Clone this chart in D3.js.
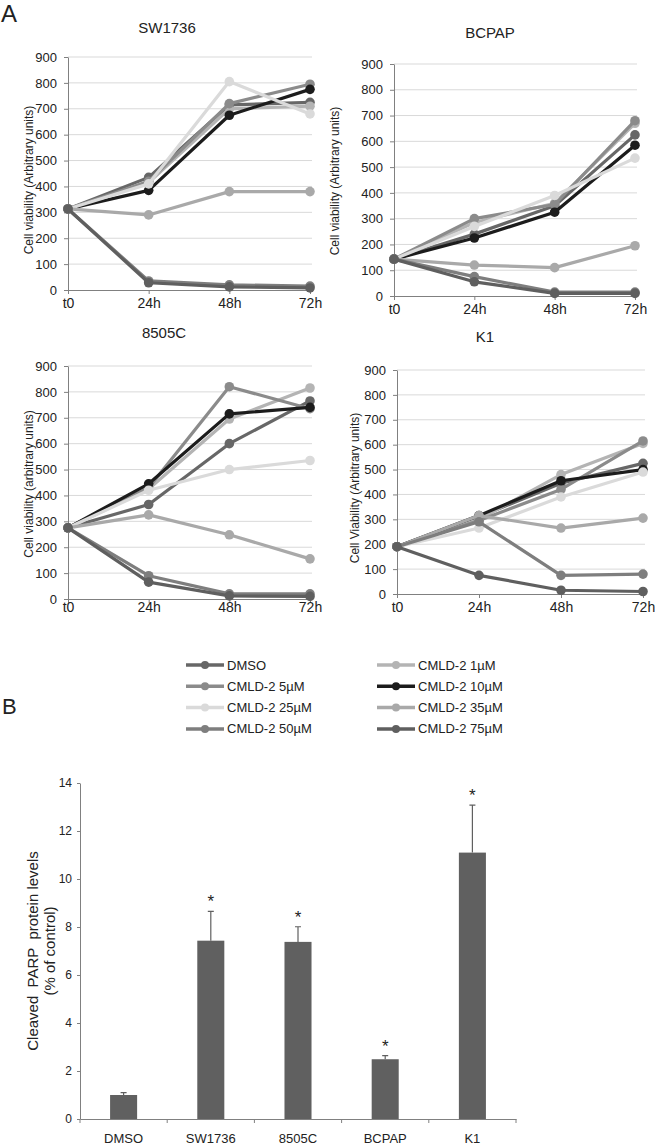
<!DOCTYPE html>
<meta charset="utf-8">
<style>
body { margin: 0; background: #fff; }
svg { font-family: "Liberation Sans", Arial, sans-serif; }
svg text { fill: #222; }
.axis path, .axis line { stroke: #808080; }
</style>
<body>
<script src="https://cdn.jsdelivr.net/npm/d3@7"></script>
<script>

// ---- data ----
var times = ["t0", "24h", "48h", "72h"];
var treatments = ["DMSO", "CMLD-2 1µM", "CMLD-2 5µM", "CMLD-2 10µM",
                  "CMLD-2 25µM", "CMLD-2 35µM", "CMLD-2 50µM", "CMLD-2 75µM"];
var shades = ["#676767", "#b4b4b4", "#8b8b8b", "#1c1c1c",
              "#dadada", "#a9a9a9", "#7e7e7e", "#5f5f5f"];
var viabilityTicks = [0, 100, 200, 300, 400, 500, 600, 700, 800, 900];

// one row per treatment, values at t0, 24h, 48h, 72h
var sw1736 = [
  [313, 435, 715, 725],
  [313, 415, 700, 710],
  [313, 420, 720, 795],
  [313, 385, 675, 775],
  [313, 410, 805, 680],
  [313, 290, 380, 380],
  [313, 35, 20, 15],
  [313, 28, 12, 8]
];
var bcpap = [
  [143, 240, 350, 625],
  [143, 285, 360, 670],
  [143, 300, 355, 680],
  [143, 225, 325, 585],
  [143, 270, 390, 535],
  [143, 120, 110, 195],
  [143, 75, 15, 15],
  [143, 55, 10, 10]
];
var c8505 = [
  [275, 365, 600, 765],
  [275, 425, 695, 815],
  [275, 430, 820, 735],
  [275, 445, 715, 740],
  [275, 420, 500, 535],
  [275, 325, 248, 155],
  [275, 90, 20, 20],
  [275, 65, 12, 10]
];
var k1 = [
  [190, 310, 445, 525],
  [190, 300, 480, 605],
  [190, 295, 420, 615],
  [190, 315, 455, 500],
  [190, 265, 390, 490],
  [190, 315, 265, 305],
  [190, 290, 75, 80],
  [190, 75, 15, 10]
];

var barCategories = ["DMSO", "SW1736", "8505C", "BCPAP", "K1"];
var parpMean = [1.0, 7.43, 7.38, 2.49, 11.1];
var parpErr = [0.1, 1.22, 0.63, 0.15, 1.98];
var parpStar = [false, true, true, true, true];
var parpTicks = [0, 2, 4, 6, 8, 10, 12, 14];

// ---- canvas ----
var svg = d3.select("body").append("svg")
    .attr("width", 655)
    .attr("height", 1145);

svg.append("text").attr("x", 1).attr("y", 22)
    .style("font-size", "24px").text("A");
svg.append("text").attr("x", 2).attr("y", 714)
    .style("font-size", "22px").text("B");

// ---- line panels ----
var panels = [
  {title: "SW1736", data: sw1736, ylab: "Cell viability (Arbitrary units)",
   x0: 68, x1: 310, top: 57, bottom: 290, tx: 167, ty: 28, lx: 29, ly: 180, gap: 13},
  {title: "BCPAP", data: bcpap, ylab: "Cell viability (Arbitrary units)",
   x0: 394, x1: 635, top: 64, bottom: 296, tx: 490, ty: 33, lx: 335, ly: 181, gap: 13},
  {title: "8505C", data: c8505, ylab: "Cell viability (arbitrary units)",
   x0: 68, x1: 310, top: 366, bottom: 599, tx: 164, ty: 333, lx: 29, ly: 484, gap: 8},
  {title: "K1", data: k1, ylab: "Cell Viability (Arbitrary units)",
   x0: 397, x1: 643, top: 370, bottom: 594, tx: 485, ty: 337, lx: 355, ly: 488, gap: 13}
];

panels.forEach(function(p) {
  var x = d3.scalePoint().domain(times).range([p.x0, p.x1]);
  var y = d3.scaleLinear().domain([0, 900]).range([p.bottom, p.top]);
  var g = svg.append("g");

  // gridlines
  g.append("g").selectAll("line")
    .data(viabilityTicks.slice(1))
    .join("line")
      .attr("x1", p.x0).attr("x2", p.x1 + 2)
      .attr("y1", function(d) { return y(d); })
      .attr("y2", function(d) { return y(d); })
      .attr("stroke", "#d9d9d9");

  // y axis
  var ya = g.append("g").attr("class", "axis")
      .attr("transform", "translate(" + p.x0 + ",0)")
      .call(d3.axisLeft(y).tickValues(viabilityTicks).tickSize(4).tickSizeOuter(0).tickPadding(7));
  ya.selectAll("text").style("font-size", "13px");
  ya.attr("font-family", null).attr("font-size", null);

  // x axis
  var xa = g.append("g").attr("class", "axis")
      .attr("transform", "translate(0," + p.bottom + ")")
      .call(d3.axisBottom(x).tickSize(4).tickSizeOuter(0).tickPadding(p.gap - 9));
  xa.selectAll("text").style("font-size", "14px");
  xa.attr("font-family", null).attr("font-size", null);

  // title and axis label
  g.append("text").attr("x", p.tx).attr("y", p.ty).attr("dy", "0.35em")
    .attr("text-anchor", "middle").style("font-size", "15px").text(p.title);
  g.append("text")
    .attr("transform", "translate(" + p.lx + "," + p.ly + ") rotate(-90)")
    .attr("dy", "0.35em").attr("text-anchor", "middle")
    .style("font-size", "12px").text(p.ylab);

  // series
  var line = d3.line()
    .x(function(d, i) { return x(times[i]); })
    .y(function(d) { return y(d); });

  p.data.forEach(function(vals, k) {
    g.append("path")
      .attr("d", line(vals))
      .attr("fill", "none")
      .attr("stroke", shades[k])
      .attr("stroke-width", 3.2)
      .attr("stroke-linejoin", "round");
    g.append("g").selectAll("circle")
      .data(vals)
      .join("circle")
        .attr("cx", function(d, i) { return x(times[i]); })
        .attr("cy", function(d) { return y(d); })
        .attr("r", 4.8)
        .attr("fill", shades[k]);
  });
});

// ---- legend ----
var legend = svg.append("g").selectAll("g")
    .data(treatments)
    .join("g")
      .attr("transform", function(d, i) {
        return "translate(" + (i % 2 ? 377 : 186) + "," + (665 + Math.floor(i / 2) * 21.3) + ")";
      });
legend.append("line")
    .attr("x1", 0).attr("x2", 38)
    .attr("stroke", function(d, i) { return shades[i]; })
    .attr("stroke-width", 3.5);
legend.append("circle")
    .attr("cx", 19).attr("r", 4)
    .attr("fill", function(d, i) { return shades[i]; });
legend.append("text")
    .attr("x", 41).attr("dy", "0.35em")
    .style("font-size", "13px")
    .text(function(d) { return d; });

// ---- bar chart ----
var xb = d3.scaleBand().domain(barCategories).range([80, 516]);
var yb = d3.scaleLinear().domain([0, 14]).range([1119, 783]);
var bw = xb.bandwidth() * 0.31;

var bars = svg.append("g");
bars.selectAll("rect")
  .data(barCategories)
  .join("rect")
    .attr("x", function(d) { return xb(d) + xb.bandwidth() / 2 - bw / 2; })
    .attr("y", function(d, i) { return yb(parpMean[i]); })
    .attr("width", bw)
    .attr("height", function(d, i) { return yb(0) - yb(parpMean[i]); })
    .attr("fill", "#606060");

// error bars
bars.selectAll("path.err")
  .data(barCategories)
  .join("path")
    .attr("class", "err")
    .attr("d", function(d, i) {
      var cx = xb(d) + xb.bandwidth() / 2, t = yb(parpMean[i] + parpErr[i]);
      return "M" + cx + "," + yb(parpMean[i]) + "V" + t + "M" + (cx - 3) + "," + t + "H" + (cx + 3);
    })
    .attr("stroke", "#606060").attr("fill", "none").attr("stroke-width", 1.2);

bars.selectAll("text.star")
  .data(barCategories.filter(function(d, i) { return parpStar[i]; }))
  .join("text")
    .attr("class", "star")
    .attr("x", function(d) { return xb(d) + xb.bandwidth() / 2; })
    .attr("y", function(d) {
      var i = barCategories.indexOf(d);
      return yb(parpMean[i] + parpErr[i]) - 4;
    })
    .attr("text-anchor", "middle")
    .style("font-size", "17px")
    .text("*");

var yba = svg.append("g").attr("class", "axis")
    .attr("transform", "translate(80,0)")
    .call(d3.axisLeft(yb).tickValues(parpTicks).tickSize(3).tickSizeOuter(0).tickPadding(5));
yba.selectAll("text").style("font-size", "12px");
yba.attr("font-family", null).attr("font-size", null);

var xba = svg.append("g").attr("class", "axis")
    .attr("transform", "translate(0,1119)")
    .call(d3.axisBottom(xb).tickSize(0).tickSizeOuter(0).tickPadding(15));
xba.selectAll("text").style("font-size", "13px");
xba.attr("font-family", null).attr("font-size", null);
// boundary ticks between categories
xba.selectAll("line.sep")
  .data(barCategories.map(function(d) { return xb(d); }).concat([xb.range()[1]]))
  .join("line")
    .attr("class", "sep")
    .attr("x1", function(d) { return d; }).attr("x2", function(d) { return d; })
    .attr("y1", 0).attr("y2", 4)
    .attr("stroke", "#808080");

svg.append("text")
    .attr("transform", "translate(33,951) rotate(-90)")
    .attr("dy", "0.35em").attr("text-anchor", "middle")
    .style("font-size", "15px").style("white-space", "pre")
    .text("Cleaved  PARP  protein levels");
svg.append("text")
    .attr("transform", "translate(50,951) rotate(-90)")
    .attr("dy", "0.35em").attr("text-anchor", "middle")
    .style("font-size", "15px")
    .text("(% of control)");

</script>
</body>
